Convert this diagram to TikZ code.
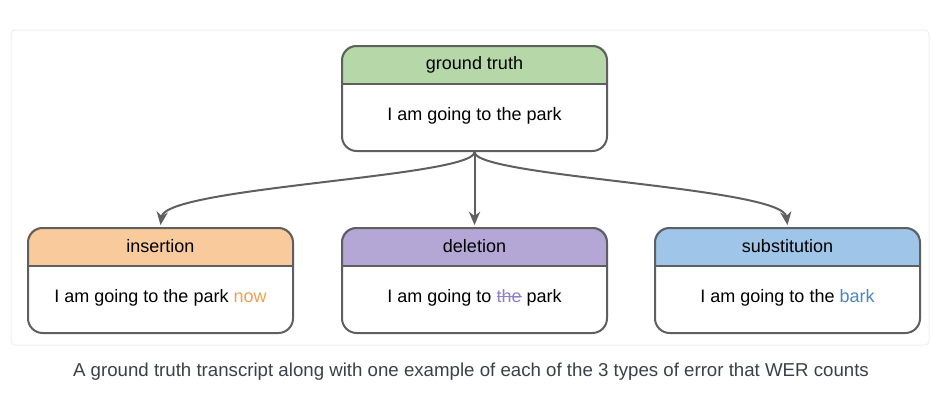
\documentclass[tikz,border=0pt]{standalone}
\usepackage{fontspec}
\setmainfont{Liberation Sans}
\usetikzlibrary{backgrounds,calc,arrows.meta}
\definecolor{linec}{HTML}{5F5F5F}
\definecolor{gtc}{HTML}{B6D7A8}
\definecolor{insc}{HTML}{F9CB9C}
\definecolor{delc}{HTML}{B4A7D6}
\definecolor{subc}{HTML}{9FC5E8}
\definecolor{nowc}{HTML}{F0A050}
\definecolor{barkc}{HTML}{4A86C8}
\definecolor{thec}{HTML}{9080C8}
\definecolor{capc}{HTML}{3C4046}
\definecolor{panelc}{HTML}{EEEEEE}
\newcommand\mystrike[1]{\setbox0\hbox{#1}\rlap{\raisebox{0.3em}{\rule{\wd0}{0.7pt}}}\box0}
\begin{document}
\begin{tikzpicture}[x=0.75pt,y=-0.75pt,
  box/.style={draw=linec, line width=1.5pt, rounded corners=11pt, minimum width=198.75pt, minimum height=78.75pt, inner sep=0pt, anchor=north west},
  hdrtext/.style={font=\fontsize{13.5pt}{16pt}\selectfont, text=black, inner sep=0pt},
  bodytext/.style={font=\fontsize{13.5pt}{16pt}\selectfont, text=black, inner sep=0pt},
  conn/.style={draw=linec, line width=1.5pt, -{Stealth[length=10pt,width=8.5pt]}}]
\useasboundingbox (0,0) rectangle (934,411);
\draw[panelc, line width=0.75pt, rounded corners=3pt] (11,30) rectangle (929,345);
% boxes
\node[box] (gt) at (341,45) {};
\node[box] (ins) at (27,227) {};
\node[box] (del) at (341,227) {};
\node[box] (sub) at (654,227) {};
% header fills
\begin{scope}[on background layer]
\foreach \b/\c in {gt/gtc,ins/insc,del/delc,sub/subc}{
  \begin{scope}
    \clip[rounded corners=11pt] (\b.north west) rectangle (\b.south east);
    \fill[\c] (\b.north west) rectangle ($(\b.north east)+(0,39)$);
  \end{scope}
}
\end{scope}
\foreach \b in {gt,ins,del,sub}{
  \draw[linec, line width=1.5pt] ($(\b.north west)+(0,39)$) -- ($(\b.north east)+(0,39)$);
}
% texts
\node[hdrtext] (gth) at ($(gt.north)+(0,19.5)$) {ground truth};
\node[bodytext] (gtb) at ($(gt.north)+(0,71)$) {I am going to the park};
\node[hdrtext] (insh) at ($(ins.north)+(0,19.5)$) {insertion};
\node[bodytext] (insb) at ($(ins.north)+(0,71)$) {I am going to the park \textcolor{nowc}{now}};
\node[hdrtext] (delh) at ($(del.north)+(0,19.5)$) {deletion};
\node[bodytext] (delb) at ($(del.north)+(0,71)$) {I am going to {\color{thec}\mystrike{the}} park};
\node[hdrtext] (subh) at ($(sub.north)+(0,19.5)$) {substitution};
\node[bodytext] (subb) at ($(sub.north)+(0,71)$) {I am going to the \textcolor{barkc}{bark}};
% connectors
\draw[conn] (gt.south) .. controls ($(gt.south)+(0,25)$) and ($(ins.north)+(5,-40)$) .. ($(ins.north)+(0,-2)$);
\draw[conn] (gt.south) -- ($(del.north)+(0,-2)$);
\draw[conn] (gt.south) .. controls ($(gt.south)+(0,25)$) and ($(sub.north)+(-5,-40)$) .. ($(sub.north)+(0,-2)$);
% caption
\node[font=\fontsize{14pt}{16pt}\selectfont, text=capc, inner sep=0pt] (cap) at (471,372) {A ground truth transcript along with one example of each of the 3 types of error that WER counts};
\end{tikzpicture}
\end{document}
